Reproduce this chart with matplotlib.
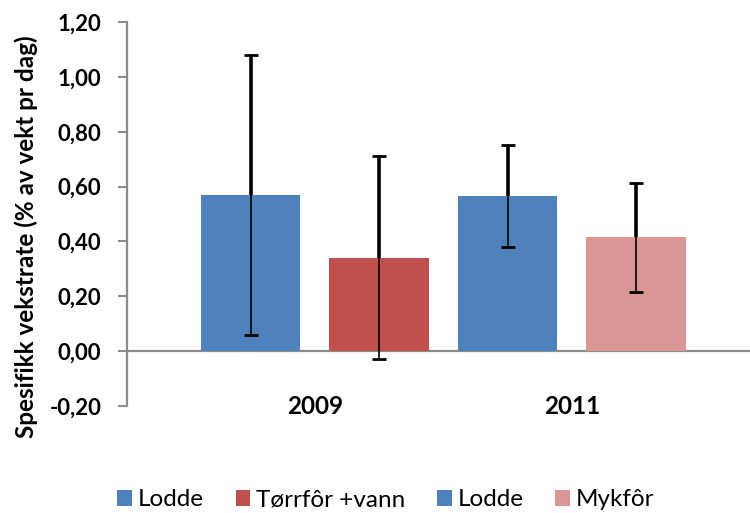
import matplotlib
matplotlib.use("Agg")
import matplotlib.pyplot as plt
from matplotlib.patches import Patch
from matplotlib.ticker import FuncFormatter
import numpy as np

plt.rcParams['font.family'] = ['Lato', 'DejaVu Sans']

years = ['2009', '2011']
series = ['Lodde', 'Tørrfôr +vann', 'Lodde', 'Mykfôr']
bar_group = [0, 0, 1, 1]
bar_offset = [-0.25, 0.25, -0.25, 0.25]
values = [0.568, 0.341, 0.564, 0.415]
errors = [0.51, 0.37, 0.186, 0.198]
colors = ['#4F81BD', '#C0504D', '#4F81BD', '#D99694']
yticks = [-0.2, 0.0, 0.2, 0.4, 0.6, 0.8, 1.0, 1.2]

fig = plt.figure(figsize=(7.5, 5.13), dpi=100)
ax = fig.add_axes([127/750, 1-406/513, 1-127/750, 384/513])

xpos = np.array(bar_group) + np.array(bar_offset)
vals = np.array(values)
errs = np.array(errors)
ax.bar(xpos, vals, width=0.387, color=colors, zorder=2)
# thin error line with caps, thicker where it sticks out above the bar
ax.errorbar(xpos, vals, yerr=errs, fmt='none', ecolor='black',
            elinewidth=1.2, capsize=5, capthick=2, zorder=3)
ax.vlines(xpos, vals, vals + errs, color='black', lw=2.6, zorder=3)

ax.axhline(0, color='#8C8C8C', lw=1.6, zorder=1)

ax.set_xlim(-0.7315, 1.693)
ax.set_ylim(-0.2, 1.2)
ax.set_yticks(yticks)
ax.yaxis.set_major_formatter(FuncFormatter(lambda v, p: f'{v:.2f}'.replace('.', ',')))
ax.tick_params(axis='y', direction='out', length=6.5, width=1.5, color='#8C8C8C',
               pad=12, labelsize=16)
for lab in ax.get_yticklabels():
    lab.set_fontweight('bold')
ax.set_xticks([])
for s in ['top', 'right', 'bottom']:
    ax.spines[s].set_visible(False)
ax.spines['left'].set_color('#8C8C8C')
ax.spines['left'].set_linewidth(1.6)

for i, y in enumerate(years):
    ax.text(i, -0.2, y, ha='center', va='center', fontsize=17.5, fontweight='bold')

fig.text(26/750, 1-237/513, 'Spesifikk vekstrate (% av vekt pr dag)', rotation=90,
         ha='center', va='center', fontsize=17.5, fontweight='bold')

handles = [Patch(facecolor=c) for c in colors]
fig.legend(handles, series, loc='center', bbox_to_anchor=(386/750, 1-500/513),
           ncol=4, frameon=False, fontsize=17.5, handlelength=0.6, handleheight=0.6,
           handletextpad=0.25, columnspacing=1.3)

fig.savefig('out.png', dpi=100)
